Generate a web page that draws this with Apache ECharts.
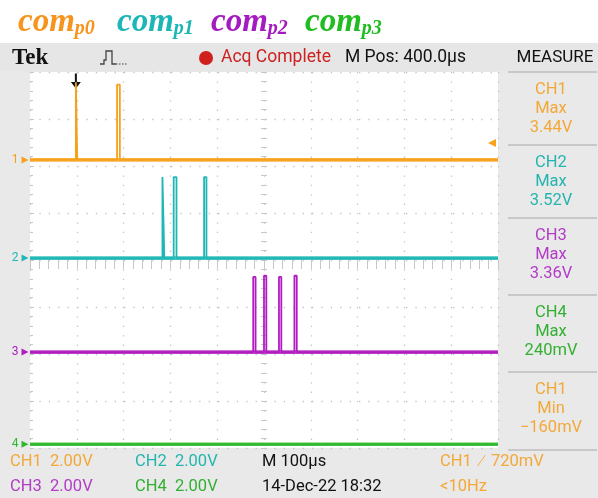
<!DOCTYPE html>
<html><head><meta charset="utf-8">
<script src="https://cdn.jsdelivr.net/npm/echarts@6/dist/echarts.min.js"></script>
<style>html,body{margin:0;padding:0;background:#fff}#c{width:598px;height:498px}</style>
</head><body><div id="c"></div>
<script>
// ---------- data ----------
const channelNames = ['CH1', 'CH2', 'CH3', 'CH4'];
const legendSubs = ['p0', 'p1', 'p2', 'p3'];
const timeRange = [0, 1000];           // µs (10 div × 100 µs)
const baseLevel = [0, 0, 0, 0];        // V
// pulse rising / falling edges (µs) and high levels (V)
const ch1Rise = [98, 186];
const ch1Fall = [101, 192];
const ch1High = [3.3, 3.2];
const ch2Rise = [283, 307, 372];
const ch2Fall = [287, 313, 377];
const ch2High = [3.45, 3.45, 3.45];
const ch3Rise = [477, 500, 532, 565];
const ch3Fall = [482, 505, 537, 570];
const ch3High = [3.2, 3.25, 3.2, 3.25];
const ch4Rise = [];
const ch4Fall = [];
const ch4High = [];
const triggerTime = 98;                // µs
const triggerLevel = 0.72;             // V
const measureCh = ['CH1', 'CH2', 'CH3', 'CH4', 'CH1'];
const measureType = ['Max', 'Max', 'Max', 'Max', 'Min'];
const measureVal = ['3.44V', '3.52V', '3.36V', '240mV', '\u2212160mV'];
const scaleTexts = ['CH1  2.00V', 'CH2  2.00V', 'CH3  2.00V', 'CH4  2.00V'];
const timebaseText = 'M 100\u00B5s';
const dateText = '14-Dec-22 18:32';
const trigText = 'CH1  \u2215  720mV';
const freqText = '<10Hz';
const mPosText = 'M Pos: 400.0\u00B5s';

// ---------- config (positions / styles) ----------
const colors = ['#f6a11c', '#1fb7b5', '#b01cc0', '#2eb82e'];
const textColors = ['#f3a838', '#25b5ae', '#b23cc6', '#33b033', '#f3a838'];
const titleColors = ['#f7941d', '#1cb6b6', '#a41cc0', '#1fbd1f'];
const chPos = [2.13, 0.04, -1.96, -3.92];   // channel offsets in divisions
const voltsPerDiv = 2;
const G = {left: 30, top: 72, width: 468, height: 376};

function trace(rises, falls, highs, base) {
  const d = [[timeRange[0], base]];
  for (let i = 0; i < rises.length; i++) {
    d.push([rises[i], base], [rises[i], highs[i]], [falls[i], highs[i]], [falls[i], base]);
  }
  d.push([timeRange[1], base]);
  return d;
}
const traces = [
  trace(ch1Rise, ch1Fall, ch1High, baseLevel[0]),
  trace(ch2Rise, ch2Fall, ch2High, baseLevel[1]),
  trace(ch3Rise, ch3Fall, ch3High, baseLevel[2]),
  trace(ch4Rise, ch4Fall, ch4High, baseLevel[3])
];

const gridDot = {color: '#c4c4c4', width: 1.3, type: [1.3, 8.1]};
const tickCol = '#c8c8c8';

const yAxes = [
  {type: 'value', min: -4, max: 4, interval: 1, axisLabel: {show: false},
   axisLine: {show: false}, axisTick: {show: true, inside: true, length: 4, lineStyle: {color: tickCol}},
   minorTick: {show: true, splitNumber: 5, length: 3, lineStyle: {color: tickCol}},
   splitLine: {show: true, lineStyle: gridDot}},
  // center vertical tick ruler
  {type: 'value', min: -4, max: 4, interval: 1, position: 'left', offset: -237,
   axisLabel: {show: false}, axisLine: {show: false},
   axisTick: {show: true, length: 6, lineStyle: {color: tickCol}},
   minorTick: {show: true, splitNumber: 5, length: 6, lineStyle: {color: tickCol}},
   splitLine: {show: false}}
];
channelNames.forEach((c, i) => {
  yAxes.push({type: 'value', show: false, min: (-4 - chPos[i]) * voltsPerDiv, max: (4 - chPos[i]) * voltsPerDiv});
});
const xAxes = [
  {type: 'value', min: timeRange[0], max: timeRange[1], interval: 100, position: 'top',
   axisLabel: {show: false}, axisLine: {show: false},
   axisTick: {show: true, inside: true, length: 4, lineStyle: {color: tickCol}},
   minorTick: {show: true, splitNumber: 5, length: 3, lineStyle: {color: tickCol}},
   splitLine: {show: true, lineStyle: gridDot}},
  {type: 'value', min: timeRange[0], max: timeRange[1], interval: 100, position: 'bottom', offset: -191,
   axisLabel: {show: false}, axisLine: {show: false},
   axisTick: {show: true, length: 6, lineStyle: {color: tickCol}},
   minorTick: {show: true, splitNumber: 5, length: 6, lineStyle: {color: tickCol}},
   splitLine: {show: false}}
];

const series = [];
traces.forEach((d, i) => {
  const mp = [{coord: [timeRange[0], baseLevel[i]], symbol: 'triangle', symbolRotate: -90,
    symbolSize: [7, 7], symbolOffset: [-5, 0], itemStyle: {color: colors[i]},
    label: {show: true, formatter: String(i + 1), position: 'left', distance: 3,
      color: colors[i], fontFamily: 'Roboto', fontSize: 12}}];
  if (i === 0) {
    mp.push({coord: [triggerTime, (4 - chPos[0]) * voltsPerDiv], symbol: 'path://M4,0 H6 V9 H10 L5,16 L0,9 H4 Z',
      symbolSize: [10, 15], symbolOffset: [0, 9], itemStyle: {color: '#111'}, label: {show: false}});
    mp.push({coord: [timeRange[1], triggerLevel], symbol: 'triangle', symbolRotate: 90,
      symbolSize: [8, 8], symbolOffset: [-6, 0], itemStyle: {color: colors[0]}, label: {show: false}});
  }
  // thick baseline band (noise envelope)
  series.push({
    type: 'line', xAxisIndex: 0, yAxisIndex: 2 + i,
    data: [[timeRange[0], baseLevel[i]], [timeRange[1], baseLevel[i]]],
    showSymbol: false, animation: false, silent: true,
    lineStyle: {color: colors[i], width: 3.6, opacity: 0.85}, z: 4 + i
  });
  series.push({
    type: 'line', xAxisIndex: 0, yAxisIndex: 2 + i, data: d, showSymbol: false, animation: false,
    lineStyle: {color: colors[i], width: 1.8}, z: 5 + i,
    markPoint: {data: mp, animation: false, silent: true}
  });
});

// ---------- graphics: frame, texts ----------
const gfx = [];
gfx.push({type: 'rect', shape: {x: 0, y: 43, width: 598, height: 455}, style: {fill: '#e9e9e9'}, z: -10});
gfx.push({type: 'rect', shape: {x: 0, y: 43, width: 598, height: 28}, style: {fill: '#e6e6e6'}, z: -9});
// title
const titleX = [18, 117, 211, 305];
legendSubs.forEach((s, i) => {
  gfx.push({type: 'text', left: titleX[i], top: 6, z: 20, style: {
    text: '{a|com}{b|' + s + '}', rich: {
      a: {fontFamily: 'Liberation Serif', fontStyle: 'italic', fontWeight: 'bold', fontSize: 33, fill: titleColors[i], verticalAlign: 'bottom'},
      b: {fontFamily: 'Liberation Serif', fontStyle: 'italic', fontWeight: 'bold', fontSize: 20, fill: titleColors[i], verticalAlign: 'bottom'}
    }}});
});
// header
gfx.push({type: 'text', x: 12, y: 58, z: 20, style: {text: 'Tek', font: 'bold 23px "Liberation Serif"', fill: '#111', textVerticalAlign: 'middle'}});
gfx.push({type: 'polyline', z: 20, shape: {points: [[100, 64], [104, 64], [104, 60], [106, 60], [106, 51], [112, 51], [112, 64], [116, 64]]}, style: {stroke: '#444', lineWidth: 1.3, fill: null}});
gfx.push({type: 'polyline', z: 20, shape: {points: [[116, 64], [127, 64]]}, style: {stroke: '#777', lineWidth: 1.3, lineDash: [1.5, 1.5], fill: null}});
gfx.push({type: 'circle', z: 20, shape: {cx: 206, cy: 58, r: 7}, style: {fill: '#d0201d'}});
gfx.push({type: 'text', x: 221, y: 58, z: 20, style: {text: 'Acq Complete', font: '17.5px Roboto', fill: '#cc2222', textVerticalAlign: 'middle'}});
gfx.push({type: 'text', x: 345, y: 58, z: 20, style: {text: mPosText, font: '17.5px Roboto', fill: '#111', textVerticalAlign: 'middle'}});
gfx.push({type: 'text', x: 555, y: 58, z: 20, style: {text: 'MEASURE', font: '17px Roboto', fill: '#111', textAlign: 'center', textVerticalAlign: 'middle'}});
// measure panel
const sepY = [72, 145, 218, 295, 372, 450];
sepY.forEach(y => gfx.push({type: 'line', z: 15, shape: {x1: 508, y1: y, x2: 597, y2: y}, style: {stroke: '#bdbdbd', lineWidth: 1.5}}));
measureCh.forEach((c, i) => {
  const y0 = sepY[i];
  [c, measureType[i], measureVal[i]].forEach((t, k) => {
    gfx.push({type: 'text', x: 551, y: y0 + 18 + k * 19, z: 20, style: {text: t, font: '16.5px Roboto', fill: textColors[i], textAlign: 'center', textVerticalAlign: 'middle'}});
  });
});
// bottom readouts
const botX = [10, 135, 10, 135];
const botY = [462, 462, 487, 487];
scaleTexts.forEach((t, i) => {
  gfx.push({type: 'text', x: botX[i], y: botY[i], z: 20, style: {text: t, font: '16.5px Roboto', fill: textColors[i], textVerticalAlign: 'middle'}});
});
gfx.push({type: 'text', x: 262, y: 462, z: 20, style: {text: timebaseText, font: '16.5px Roboto', fill: '#111', textVerticalAlign: 'middle'}});
gfx.push({type: 'text', x: 262, y: 487, z: 20, style: {text: dateText, font: '16.5px Roboto', fill: '#111', textVerticalAlign: 'middle'}});
gfx.push({type: 'text', x: 440, y: 462, z: 20, style: {text: trigText, font: '16.5px Roboto', fill: textColors[0], textVerticalAlign: 'middle'}});
gfx.push({type: 'text', x: 440, y: 487, z: 20, style: {text: freqText, font: '16.5px Roboto', fill: textColors[0], textVerticalAlign: 'middle'}});

const chart = echarts.init(document.getElementById('c'), null, {renderer: 'canvas'});
chart.setOption({
  animation: false,
  backgroundColor: '#ffffff',
  grid: {left: G.left, top: G.top, width: G.width, height: G.height, show: true, backgroundColor: '#ffffff', borderWidth: 0, containLabel: false},
  xAxis: xAxes,
  yAxis: yAxes,
  series: series,
  graphic: {elements: gfx}
});
</script></body></html>
